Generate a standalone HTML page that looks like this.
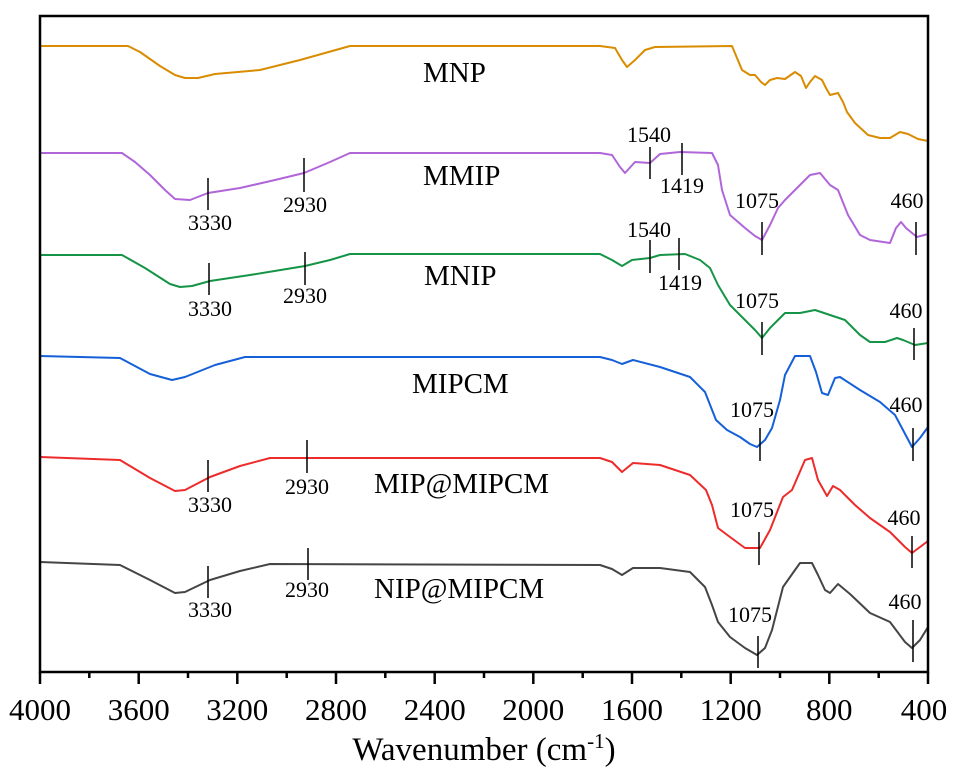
<!DOCTYPE html>
<html><head><meta charset="utf-8"><style>
html,body{margin:0;padding:0;background:#fff;}
svg{display:block;font-family:"Liberation Serif",serif;}
</style></head><body>
<svg width="955" height="776" viewBox="0 0 955 776" xmlns="http://www.w3.org/2000/svg">
<g fill="none" stroke-width="2" stroke-linejoin="round">
<polyline stroke="#D98C00" points="40,46 128,46 140,52 160,66 175,75 185,78 198,78 215,74 260,70 300,60 350,46 600,46 615,48 622,60 627,67 635,60 645,50 655,47 732,46 737,58 742,70 750,75 755,75 761,82 765,85 770,80 777,78 785,79 795,72 801,76 806,88 810,82 815,76 822,80 826,88 830,95 838,93 843,102 847,112 855,123 868,135 880,138 890,138 900,132 908,134 918,139 928,141"/>
<polyline stroke="#B066D9" points="40,153 122,153 135,162 150,175 165,190 175,199 190,200 208,193 240,188 275,180 304,173 330,162 350,153 600,153 612,155 620,167 625,173 635,162 650,163 660,154 680,152 712,153 718,165 722,190 730,215 745,228 755,236 762,240 770,225 778,208 785,200 795,190 810,175 820,173 830,185 838,190 848,215 860,235 870,240 890,243 896,228 901,222 906,228 912,233 917,237 928,234"/>
<polyline stroke="#159447" points="40,255 122,255 145,268 170,284 180,287 192,286 210,281 250,275 305,266 330,260 350,254 600,254 612,260 622,266 632,260 650,258 660,255 685,254 700,260 710,268 718,285 730,305 745,320 755,330 762,338 770,328 785,313 800,313 815,310 830,315 845,320 860,335 870,342 885,342 897,338 903,340 915,345 928,343"/>
<polyline stroke="#1560D8" points="40,356 120,358 150,374 172,380 185,377 215,365 245,357 600,357 612,360 622,364 633,360 660,367 690,377 705,392 716,420 727,430 740,437 750,444 757,447 765,440 772,428 780,400 785,375 795,356 810,356 816,372 822,393 828,395 835,378 840,377 860,390 880,402 895,415 903,430 912,447 920,438 928,427"/>
<polyline stroke="#EE2B2B" points="40,457 120,460 150,478 175,491 185,490 210,477 240,466 270,458 600,458 612,462 622,472 633,463 660,465 690,475 706,490 712,505 718,528 730,537 745,548 760,548 770,530 783,497 792,490 805,460 812,458 818,480 827,496 833,486 840,490 855,505 870,518 890,532 905,547 912,553 920,547 928,541"/>
<polyline stroke="#454545" points="40,562 120,565 150,580 175,593 185,592 210,580 240,571 270,564 600,565 612,569 622,575 633,568 660,568 690,572 705,587 712,605 718,622 730,637 745,648 757,655 765,648 772,630 783,587 795,570 800,563 812,563 818,575 825,590 830,593 838,584 850,594 870,613 890,622 905,642 912,648 920,640 928,627"/>
</g>
<g stroke="#000" stroke-width="1.5">
<line x1="208" y1="178" x2="208" y2="210"/><line x1="304" y1="158" x2="304" y2="192"/>
<line x1="650" y1="147" x2="650" y2="179"/><line x1="682" y1="143" x2="682" y2="175"/>
<line x1="762" y1="222" x2="762" y2="255"/><line x1="916" y1="222" x2="916" y2="255"/>
<line x1="209" y1="263" x2="209" y2="295"/><line x1="305" y1="252" x2="305" y2="285"/>
<line x1="650" y1="240" x2="650" y2="273"/><line x1="679" y1="238" x2="679" y2="270"/>
<line x1="762" y1="322" x2="762" y2="355"/><line x1="914" y1="328" x2="914" y2="360"/>
<line x1="760" y1="428" x2="760" y2="461"/><line x1="913" y1="428" x2="913" y2="461"/>
<line x1="208" y1="460" x2="208" y2="492"/><line x1="307" y1="440" x2="307" y2="473"/>
<line x1="759" y1="532" x2="759" y2="565"/><line x1="912" y1="536" x2="912" y2="568"/>
<line x1="208" y1="566" x2="208" y2="598"/><line x1="308" y1="548" x2="308" y2="580"/>
<line x1="758" y1="636" x2="758" y2="668"/><line x1="913" y1="620" x2="913" y2="662"/>
</g>
<g font-size="22" text-anchor="middle" fill="#000">
<text x="210" y="230">3330</text><text x="305" y="212">2930</text>
<text x="649" y="142">1540</text><text x="682" y="193">1419</text>
<text x="757" y="208">1075</text><text x="907" y="208">460</text>
<text x="210" y="316">3330</text><text x="305" y="303">2930</text>
<text x="649" y="237">1540</text><text x="680" y="290">1419</text>
<text x="757" y="308">1075</text><text x="906" y="318">460</text>
<text x="752" y="417">1075</text><text x="906" y="412">460</text>
<text x="210" y="512">3330</text><text x="307" y="494">2930</text>
<text x="752" y="517">1075</text><text x="904" y="525">460</text>
<text x="210" y="617">3330</text><text x="307" y="597">2930</text>
<text x="750" y="622">1075</text><text x="905" y="609">460</text>
</g>
<g font-size="29" fill="#000">
<text x="423" y="82">MNP</text>
<text x="423" y="185">MMIP</text>
<text x="424" y="285">MNIP</text>
<text x="412" y="393">MIPCM</text>
<text x="374" y="493">MIP@MIPCM</text>
<text x="374" y="598">NIP@MIPCM</text>
</g>
<rect x="40" y="16" width="888" height="656" fill="none" stroke="#000" stroke-width="2.5"/>
<g stroke="#000" stroke-width="2.5">
<line x1="40" y1="672" x2="40" y2="684"/><line x1="138.7" y1="672" x2="138.7" y2="684"/>
<line x1="237.3" y1="672" x2="237.3" y2="684"/><line x1="336" y1="672" x2="336" y2="684"/>
<line x1="434.7" y1="672" x2="434.7" y2="684"/><line x1="533.3" y1="672" x2="533.3" y2="684"/>
<line x1="632" y1="672" x2="632" y2="684"/><line x1="730.7" y1="672" x2="730.7" y2="684"/>
<line x1="829.3" y1="672" x2="829.3" y2="684"/><line x1="928" y1="672" x2="928" y2="684"/>
<line x1="89.3" y1="672" x2="89.3" y2="678"/><line x1="188" y1="672" x2="188" y2="678"/>
<line x1="286.7" y1="672" x2="286.7" y2="678"/><line x1="385.3" y1="672" x2="385.3" y2="678"/>
<line x1="484" y1="672" x2="484" y2="678"/><line x1="582.7" y1="672" x2="582.7" y2="678"/>
<line x1="681.3" y1="672" x2="681.3" y2="678"/><line x1="780" y1="672" x2="780" y2="678"/>
<line x1="878.7" y1="672" x2="878.7" y2="678"/>
</g>
<g font-size="31" text-anchor="middle" fill="#000">
<text x="40" y="720">4000</text><text x="138.7" y="720">3600</text><text x="237.3" y="720">3200</text>
<text x="336" y="720">2800</text><text x="434.7" y="720">2400</text><text x="533.3" y="720">2000</text>
<text x="632" y="720">1600</text><text x="730.7" y="720">1200</text><text x="829.3" y="720">800</text>
<text x="924" y="720">400</text>
</g>
<text x="484" y="760" font-size="33" text-anchor="middle" fill="#000">Wavenumber (cm<tspan font-size="21" dy="-12">-1</tspan><tspan dy="12">)</tspan></text>
</svg>
</body></html>
